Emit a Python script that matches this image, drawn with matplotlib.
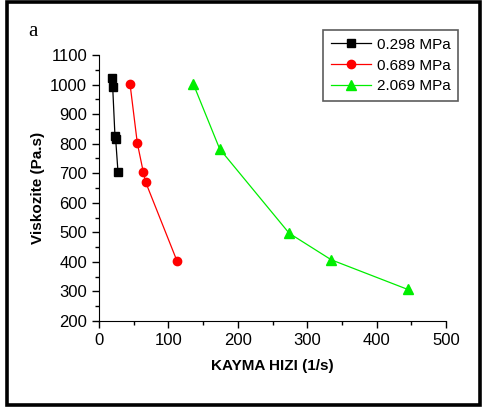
import matplotlib.pyplot as plt
from matplotlib.ticker import MultipleLocator
from matplotlib.patches import Rectangle

plt.rcParams['font.family'] = ['Liberation Sans', 'DejaVu Sans']

# Data
x_0298 = [18.7, 19.7, 23.0, 24.0, 27.4]
y_0298 = [1022, 993, 826, 816, 703]
x_0689 = [44.7, 55.2, 63.9, 67.2, 112.4]
y_0689 = [1002, 802, 703, 670, 403]
x_2069 = [135.9, 173.9, 274.0, 334.7, 444.7]
y_2069 = [1002, 782, 497, 407, 307]
series_labels = ['0.298 MPa', '0.689 MPa', '2.069 MPa']

fig = plt.figure(figsize=(4.82, 4.08), dpi=100)
ax = fig.add_axes([99 / 482, 1 - 321 / 408, 347 / 482, 266 / 408])

ax.plot(x_0298, y_0298, color='black', marker='s', markersize=5.5, lw=0.9, label=series_labels[0])
ax.plot(x_0689, y_0689, color='red', marker='o', markersize=6, lw=0.9, label=series_labels[1])
ax.plot(x_2069, y_2069, color='#00ee00', marker='^', markersize=7.5, lw=0.9, label=series_labels[2])

ax.set_xlim(0, 500)
ax.set_ylim(200, 1100)
ax.xaxis.set_major_locator(MultipleLocator(100))
ax.xaxis.set_minor_locator(MultipleLocator(50))
ax.yaxis.set_major_locator(MultipleLocator(100))
ax.yaxis.set_minor_locator(MultipleLocator(50))
ax.spines['top'].set_visible(False)
ax.spines['right'].set_visible(False)
ax.tick_params(which='major', direction='out', length=5, width=1, labelsize=12)
ax.tick_params(which='minor', direction='out', length=3, width=1)

ax.set_xlabel('KAYMA HIZI (1/s)', fontsize=11, fontweight='bold', labelpad=8)
ax.set_ylabel('Viskozite (Pa.s)', fontsize=11, fontweight='bold', labelpad=4)

leg = ax.legend(loc='upper right', bbox_to_anchor=(458 / 482, 1 - 30 / 408), bbox_transform=fig.transFigure,
                fontsize=11, frameon=True, fancybox=False, edgecolor='#333333',
                handlelength=2.6, borderpad=0.5, labelspacing=0.45, handletextpad=0.4,
                borderaxespad=0)
leg.get_frame().set_linewidth(1.2)

fig.text(33 / 482, 1 - 31 / 408, 'a', fontsize=15, family='Liberation Serif', va='center', ha='center')

fig.patches.append(Rectangle((7 / 482, 3 / 408), 473 / 482, 403 / 408, transform=fig.transFigure,
                             fill=False, edgecolor='black', lw=2.6))

fig.savefig('out.png', dpi=100)
